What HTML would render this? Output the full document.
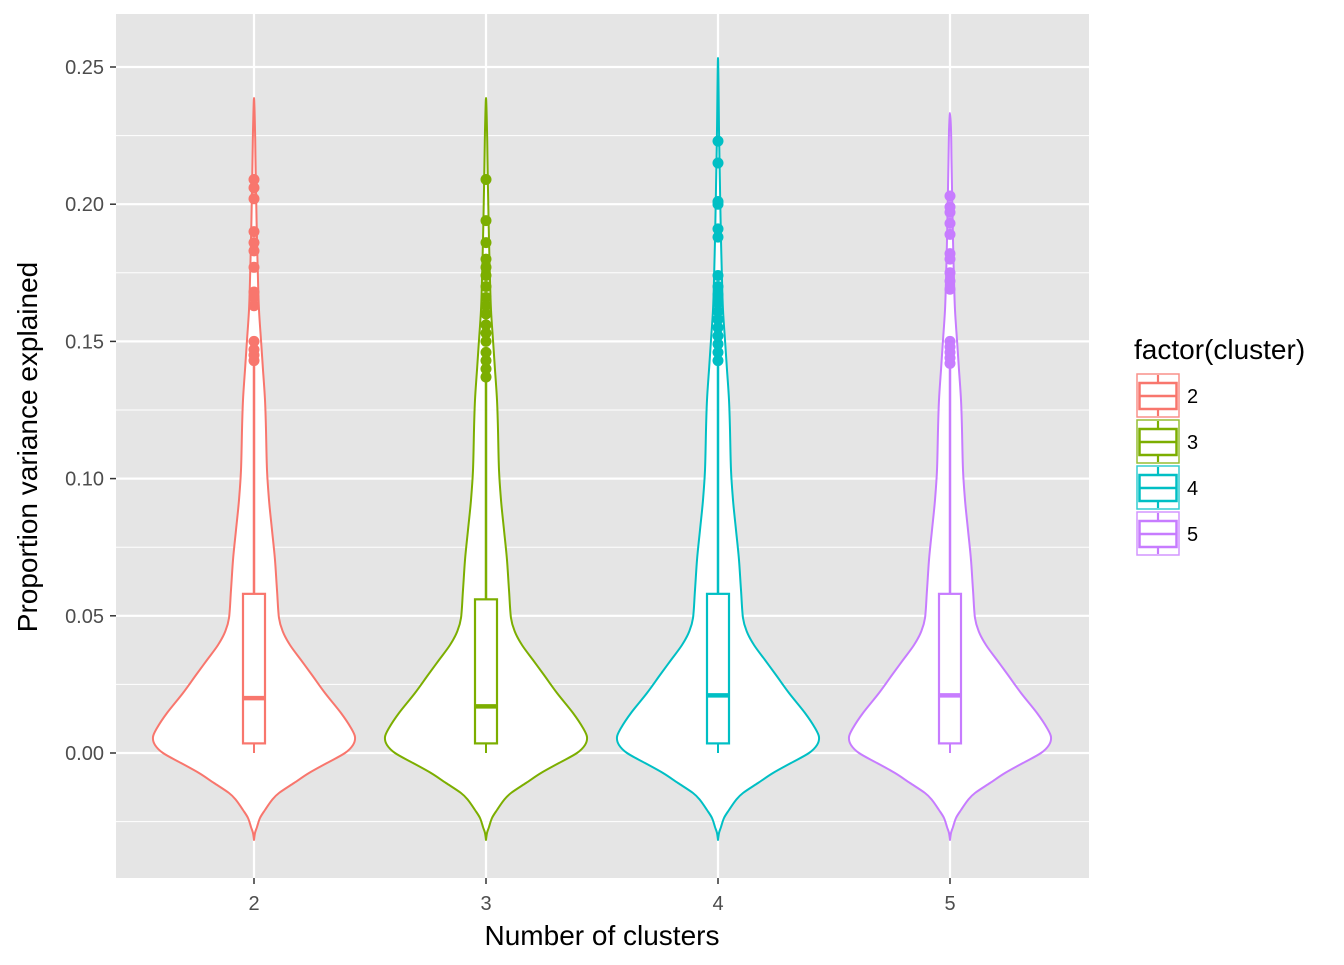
<!DOCTYPE html>
<html><head><meta charset="utf-8"><style>
html,body{margin:0;padding:0;background:#fff;}
svg text{font-family:"Liberation Sans",Arial,sans-serif;}
</style></head><body>
<svg id="s" width="1344" height="960" xmlns="http://www.w3.org/2000/svg">
<rect x="116" y="14" width="973" height="864" fill="#e5e5e5"/>
<g id="grid"></g>
<g id="data"></g>
<g id="axes"></g>
<g id="legend"></g>
</svg>
<script>
const NS="http://www.w3.org/2000/svg";
function el(p,t,a,txt){const e=document.createElementNS(NS,t);for(const k in a)e.setAttribute(k,a[k]);if(txt!==undefined)e.textContent=txt;document.getElementById(p).appendChild(e);return e;}
const Y=v=>753-v*2744;
const xs=[254,486,718,950];
const cols=["#F8766D","#7CAE00","#00BFC4","#C77CFF"];
[-0.025,0.025,0.075,0.125,0.175,0.225].forEach(v=>el("grid","line",{x1:116,x2:1089,y1:Y(v),y2:Y(v),stroke:"#fff","stroke-width":1}));
[0,0.05,0.1,0.15,0.2,0.25].forEach(v=>el("grid","line",{x1:116,x2:1089,y1:Y(v),y2:Y(v),stroke:"#fff","stroke-width":2.2}));
xs.forEach(x=>el("grid","line",{x1:x,x2:x,y1:14,y2:878,stroke:"#fff","stroke-width":2.2}));
[0,0.05,0.1,0.15,0.2,0.25].forEach(v=>{el("axes","line",{x1:110,x2:116,y1:Y(v),y2:Y(v),stroke:"#333","stroke-width":1.5});
el("axes","text",{x:104,y:Y(v)+7,"text-anchor":"end","font-size":20,fill:"#4d4d4d"},v.toFixed(2));});
xs.forEach((x,i)=>{el("axes","line",{x1:x,x2:x,y1:878,y2:884,stroke:"#333","stroke-width":1.5});
el("axes","text",{x:x,y:910,"text-anchor":"middle","font-size":20,fill:"#4d4d4d"},String(i+2));});
el("axes","text",{x:602,y:945,"text-anchor":"middle","font-size":28,fill:"#000"},"Number of clusters");
el("axes","text",{x:37,y:447,"text-anchor":"middle","font-size":28,fill:"#000",transform:"rotate(-90 37 447)"},"Proportion variance explained");
const tops=[98,98,58,113];
const prof=[[840,0],[833,1],[827,3],[818,6],[810,11],[800,18],[793,25],[783,40],[773,55],[763,73],[753,91],[745,99],[737,101],[728,97],[713,87],[693,71],[675,58],[660,47],[645,36],[632,29],[618,25],[590,23],[560,21],[530,18],[500,15],[470,13],[430,12],[400,11],[370,9],[340,7],[310,5],[280,4],[240,3],[200,2.2],[160,1.5],[130,1]];
const stats=[[0.0035,0.020,0.058,0.142,[0.143,0.145,0.147,0.150,0.163,0.166,0.168,0.177,0.183,0.186,0.190,0.202,0.206,0.209]],
[0.0035,0.017,0.056,0.136,[0.137,0.140,0.143,0.146,0.150,0.153,0.156,0.160,0.163,0.166,0.170,0.174,0.177,0.180,0.186,0.194,0.209]],
[0.0035,0.021,0.058,0.142,[0.143,0.146,0.149,0.152,0.155,0.158,0.161,0.164,0.167,0.170,0.174,0.188,0.191,0.200,0.201,0.215,0.223]],
[0.0035,0.021,0.058,0.141,[0.142,0.144,0.146,0.148,0.150,0.169,0.172,0.175,0.180,0.182,0.189,0.193,0.197,0.199,0.203]]];
xs.forEach((x,i)=>{
 const c=cols[i];
 let pts=prof.filter(p=>p[0]>tops[i]+10);pts.push([tops[i],0]);
 let r=pts.map(p=>[x+p[1],p[0]]),l=pts.map(p=>[x-p[1],p[0]]).reverse();
 let all=r.concat(l.slice(1));
 let d="M"+all[0][0]+","+all[0][1];
 for(let k=0;k<all.length-1;k++){const p0=all[Math.max(0,k-1)],p1=all[k],p2=all[k+1],p3=all[Math.min(all.length-1,k+2)];
  const c1=[p1[0]+(p2[0]-p0[0])/6,p1[1]+(p2[1]-p0[1])/6],c2=[p2[0]-(p3[0]-p1[0])/6,p2[1]-(p3[1]-p1[1])/6];
  d+=` C${c1[0].toFixed(1)},${c1[1].toFixed(1)} ${c2[0].toFixed(1)},${c2[1].toFixed(1)} ${p2[0].toFixed(1)},${p2[1].toFixed(1)}`;}
 d+="Z";
 el("data","path",{d:d,fill:"#fff",stroke:c,"stroke-width":2,"stroke-linejoin":"round"});
 const s=stats[i];
 el("data","line",{x1:x,x2:x,y1:Y(0),y2:Y(s[0]),stroke:c,"stroke-width":2});
 el("data","line",{x1:x,x2:x,y1:Y(s[2]),y2:Y(s[3]),stroke:c,"stroke-width":2.5});
 el("data","rect",{x:x-11,y:Y(s[2]),width:22,height:Y(s[0])-Y(s[2]),fill:"#fff",stroke:c,"stroke-width":2.2});
 el("data","line",{x1:x-11,x2:x+11,y1:Y(s[1]),y2:Y(s[1]),stroke:c,"stroke-width":4.5});
 s[4].forEach(v=>el("data","circle",{cx:x,cy:Y(v),r:5.5,fill:c}));
});
el("legend","text",{x:1134,y:359,"font-size":28,fill:"#000"},"factor(cluster)");
cols.forEach((c,i)=>{const y0=373+i*46;
 el("legend","rect",{x:1137,y:y0+1,width:42,height:43,fill:"#fff",stroke:c,"stroke-width":1.5,"stroke-opacity":0.8});
 el("legend","line",{x1:1158,x2:1158,y1:y0+2,y2:y0+43,stroke:c,"stroke-width":2.2});
 el("legend","rect",{x:1139.5,y:y0+10,width:37,height:26,fill:"#fff",stroke:c,"stroke-width":2.5});
 el("legend","line",{x1:1139,x2:1177,y1:y0+23,y2:y0+23,stroke:c,"stroke-width":2.5});
 el("legend","text",{x:1187,y:y0+30,"font-size":20,fill:"#000"},String(i+2));
});
</script>
</body></html>
